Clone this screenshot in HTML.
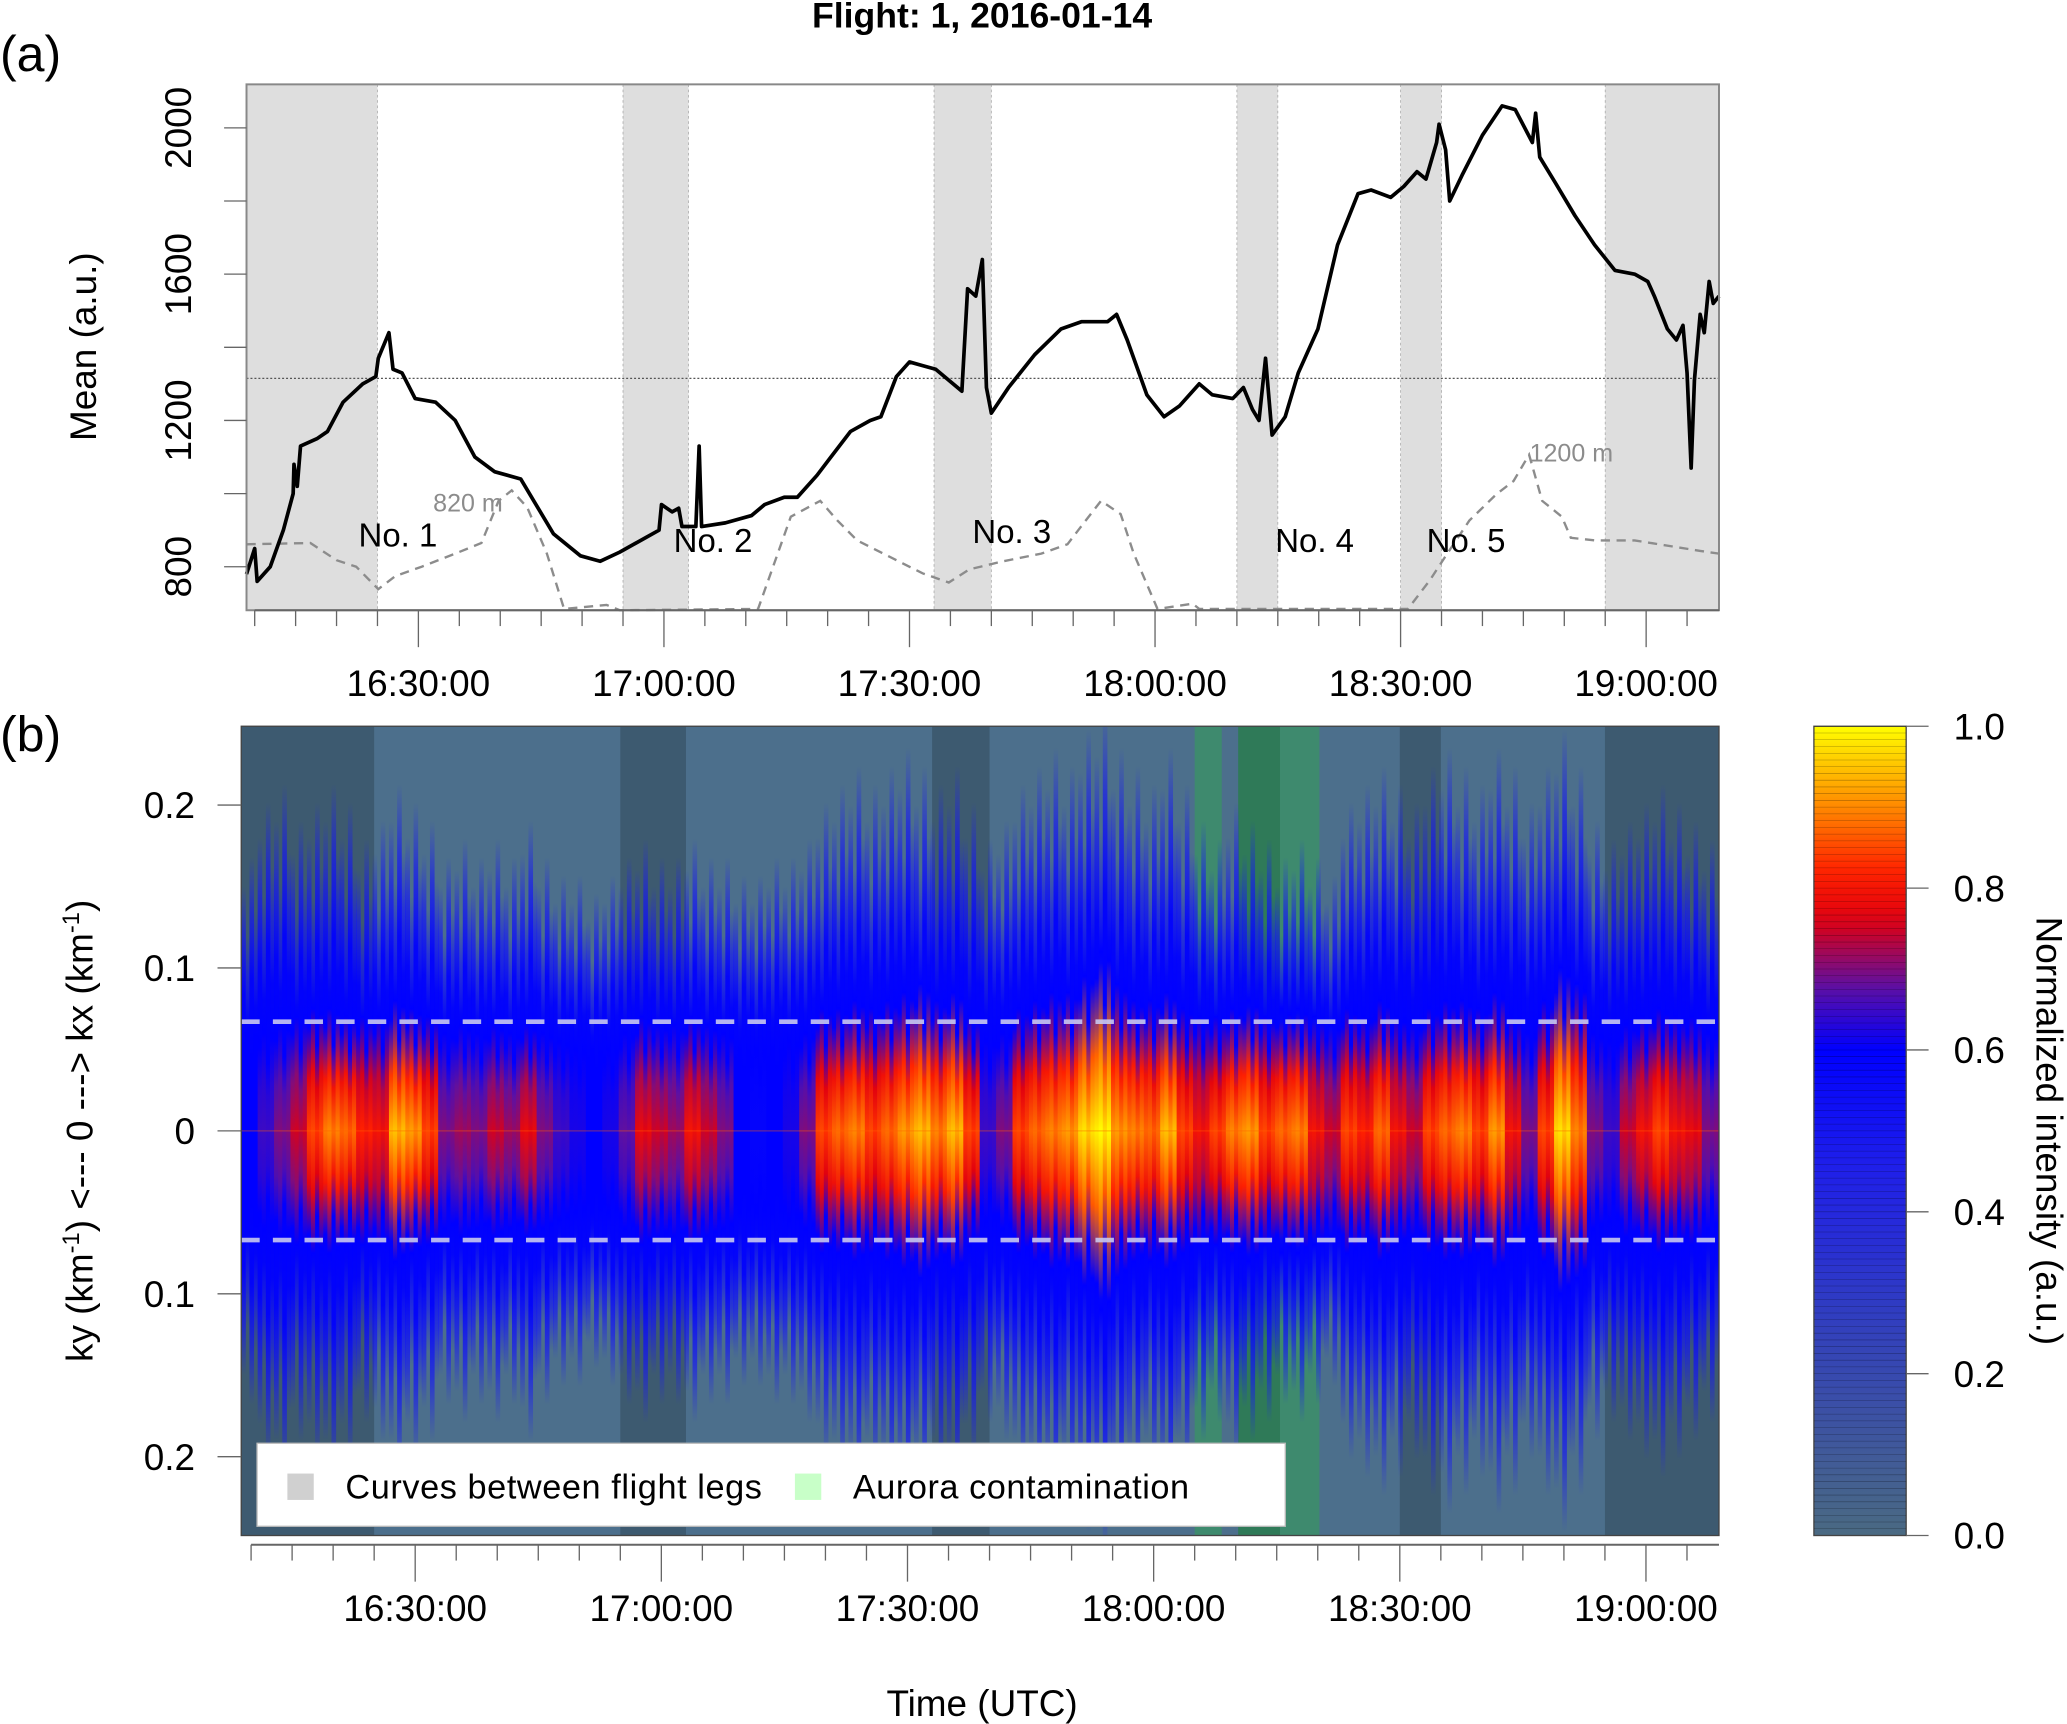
<!DOCTYPE html>
<html><head><meta charset="utf-8"><style>
html,body{margin:0;padding:0;background:#fff;}
svg{display:block;font-family:"Liberation Sans",sans-serif;}
</style></head><body>
<svg id="fig" width="2067" height="1724" viewBox="0 0 1568 1308" preserveAspectRatio="none" xmlns="http://www.w3.org/2000/svg">
<defs id="defs"></defs>
<text x="745" y="21" text-anchor="middle" font-size="27" font-weight="bold">Flight: 1, 2016-01-14</text>
<text x="0" y="54" font-size="38">(a)</text>
<text x="0" y="570" font-size="38">(b)</text>
<g id="pa"></g>
<g id="pb"></g>
<g id="cb"></g>
</svg>
<script>
// ---------- data: panel (a) ----------
const meanTimes=[9.0,10.0,10.3,11.9,13.5,14.7,14.8,15.2,15.6,17.6,18.9,20.8,23.2,24.8,25.1,26.4,26.9,28.0,29.6,32.1,34.5,36.9,39.3,42.5,44.1,46.5,49.8,52.2,54.6,57.8,59.4,59.7,61.0,61.8,62.2,63.9,64.3,64.6,67.5,70.7,72.3,74.7,76.3,78.7,80.4,82.8,85.2,86.5,88.4,90.0,91.6,93.2,96.4,97.1,98.1,98.9,99.4,100.0,102.1,105.3,108.5,111.0,114.2,115.3,116.6,119.0,121.1,123.0,125.4,127.0,129.5,130.8,131.9,132.7,133.5,134.3,135.9,137.5,139.9,142.3,144.8,146.4,148.8,150.4,152.0,153.1,154.4,154.7,155.5,156.0,157.5,160.0,162.4,164.0,166.1,166.5,167.0,168.9,171.3,173.7,176.2,178.6,180.2,181.0,182.6,183.7,184.5,185.0,185.5,185.9,186.6,187.1,187.7,188.2,188.9];
const meanValues=[780,850,760,800,900,1000,1080,1020,1130,1150,1170,1250,1300,1320,1370,1440,1340,1330,1260,1250,1200,1100,1060,1040,980,890,830,815,840,880,900,970,950,960,910,910,1130,910,920,940,970,990,990,1050,1100,1170,1200,1210,1320,1360,1350,1340,1280,1560,1540,1640,1290,1220,1290,1380,1450,1470,1470,1490,1420,1270,1210,1240,1300,1270,1260,1290,1230,1200,1370,1160,1210,1330,1450,1680,1820,1830,1810,1840,1880,1860,1960,2010,1940,1800,1870,1980,2060,2050,1960,2040,1920,1850,1760,1680,1610,1600,1580,1540,1450,1420,1460,1330,1070,1310,1490,1440,1580,1520,1540];
const altTimes=[9.0,16.8,20.0,22.4,25.1,27.2,30.4,34.5,37.7,39.8,41.4,43.3,45.7,47.8,53.0,54.6,71.5,73.9,75.5,79.1,81.2,83.6,86.8,91.6,94.8,97.3,101.3,106.1,109.3,110.9,113.4,115.8,117.4,120.3,124.6,125.4,150.9,153.6,155.7,158.4,161.7,163.8,165.7,167.3,169.7,170.8,173.7,178.6,186.6,188.9];
const altValues=[509,519,386,336,163,264,336,437,519,844,925,793,437,10,41,0,10,437,722,844,692,539,437,285,214,315,376,437,509,641,844,742,437,10,51,10,10,234,437,692,895,997,1200,844,722,559,539,539,458,437];
const curveBands=[[9,25],[55,63],[93,100],[130,135],[150,155],[175,189]];
const legLabels=["No. 1","No. 2","No. 3","No. 4","No. 5"];
const legLabelTimes=[27.5,66.0,102.5,139.5,158.0];
const legLabelValues=[855,840,865,840,840];
const meanRef=1315;
const yTicksA=[800,1000,1200,1400,1600,1800,2000];
const yLabelsA=[800,1200,1600,2000];
const xTickLabels=["16:30:00","17:00:00","17:30:00","18:00:00","18:30:00","19:00:00"];
const xTickMinutes=[30,60,90,120,150,180];
// ---------- data: panel (b) ----------
const binStart=8.8, binWidth=2.0;
const intensity=[0.6,0.65,0.7,0.75,0.85,0.9,0.88,0.82,0.8,0.95,0.92,0.85,0.7,0.72,0.7,0.75,0.72,0.78,0.7,0.65,0.62,0.6,0.62,0.68,0.78,0.75,0.72,0.8,0.75,0.7,0.6,0.58,0.6,0.62,0.7,0.85,0.88,0.9,0.85,0.88,0.92,0.95,0.9,0.95,0.85,0.65,0.7,0.85,0.88,0.9,0.92,0.98,1.0,0.92,0.9,0.88,0.95,0.85,0.8,0.85,0.9,0.92,0.85,0.88,0.9,0.8,0.75,0.85,0.82,0.88,0.8,0.75,0.85,0.88,0.9,0.85,0.92,0.8,0.7,0.85,0.98,0.9,0.7,0.65,0.75,0.8,0.85,0.8,0.78,0.7];
const extent=[0.15,0.18,0.19,0.17,0.18,0.19,0.18,0.16,0.17,0.19,0.18,0.17,0.15,0.16,0.15,0.16,0.15,0.17,0.15,0.14,0.14,0.13,0.14,0.15,0.16,0.15,0.15,0.16,0.15,0.15,0.14,0.14,0.15,0.15,0.16,0.18,0.19,0.2,0.19,0.2,0.21,0.2,0.19,0.2,0.18,0.16,0.17,0.19,0.2,0.21,0.2,0.22,0.23,0.21,0.2,0.19,0.21,0.19,0.17,0.16,0.18,0.17,0.16,0.15,0.16,0.15,0.14,0.18,0.19,0.2,0.19,0.18,0.2,0.21,0.2,0.19,0.21,0.2,0.18,0.2,0.22,0.2,0.17,0.16,0.17,0.18,0.19,0.18,0.17,0.16];
const coreK=[0.06,0.06,0.065,0.07,0.075,0.075,0.07,0.07,0.07,0.08,0.075,0.07,0.06,0.065,0.06,0.065,0.06,0.065,0.06,0.055,0.05,0.05,0.05,0.06,0.07,0.065,0.065,0.07,0.065,0.06,0.05,0.05,0.05,0.055,0.06,0.075,0.075,0.08,0.075,0.08,0.085,0.09,0.08,0.085,0.07,0.055,0.06,0.075,0.08,0.085,0.085,0.095,0.11,0.09,0.08,0.08,0.085,0.075,0.07,0.07,0.075,0.08,0.07,0.075,0.075,0.07,0.065,0.075,0.07,0.08,0.07,0.065,0.075,0.08,0.08,0.075,0.085,0.07,0.06,0.08,0.1,0.09,0.06,0.055,0.065,0.07,0.075,0.07,0.07,0.06];
const bgBands=[[8.8,25,'#3d5a70'],[55,63,'#3d5a70'],[93,100,'#3d5a70'],[150,155,'#3d5a70'],[175,189,'#3d5a70'],[125,128.3,'#3e8a6e'],[130.3,135.4,'#2f7a58'],[135.4,140.2,'#3e8a6e']];
const kTicks=[0.2,0.1,0,-0.1,-0.2];
const cbTicks=[0,0.2,0.4,0.6,0.8,1.0];
const cmapStops=[[0,'#4a6a82'],[0.45,'#2020e8'],[0.6,'#0000ff'],[0.68,'#6010a0'],[0.76,'#e00010'],[0.82,'#ff2000'],[0.9,'#ff8800'],[1,'#ffff00']];

const NS='http://www.w3.org/2000/svg';
function mk(tag,attrs,parent){const e=document.createElementNS(NS,tag);for(const k in attrs)e.setAttribute(k,attrs[k]);if(parent)parent.appendChild(e);return e;}
function hex(c){return [parseInt(c.substr(1,2),16),parseInt(c.substr(3,2),16),parseInt(c.substr(5,2),16)];}
function cmap(v){v=Math.max(0,Math.min(1,v));for(let i=1;i<cmapStops.length;i++){if(v<=cmapStops[i][0]){const a=cmapStops[i-1],b=cmapStops[i];const f=(v-a[0])/(b[0]-a[0]);const ca=hex(a[1]),cb=hex(b[1]);return 'rgb('+ca.map((x,j)=>Math.round(x+(cb[j]-x)*f)).join(',')+')';}}return cmapStops[cmapStops.length-1][1];}

// ---------- panel (a) ----------
const pa=document.getElementById('pa');
const A={x0:187,x1:1304,y0:64,y1:463};
const xa=t=>187+(t-9.0)*(1304-187)/(188.9-9.0);
const ya=v=>430-(v-800)*(333/1200);
const yalt=a=>463-a*(118/1200);
curveBands.forEach(b=>{const r=mk('rect',{x:xa(b[0]),y:A.y0,width:xa(b[1])-xa(b[0]),height:A.y1-A.y0,fill:'#dedede'},pa);


[b[0],b[1]].forEach(t=>{if(t>9.5&&t<188){mk('line',{x1:xa(t),x2:xa(t),y1:A.y0,y2:A.y1,stroke:'#aaa','stroke-width':0.6,'stroke-dasharray':'2 2'},pa);}});});
const ref=mk('line',{x1:A.x0,x2:A.x1,y1:ya(meanRef),y2:ya(meanRef),stroke:'#555','stroke-width':1,'stroke-dasharray':'1.5 1.5'},pa);


const alt=mk('polyline',{points:altTimes.map((t,i)=>xa(t)+','+yalt(altValues[i])).join(' '),fill:'none',stroke:'#8c8c8c','stroke-width':1.8,'stroke-dasharray':'7 5'},pa);


const ml=mk('polyline',{points:meanTimes.map((t,i)=>xa(t)+','+ya(meanValues[i])).join(' '),fill:'none',stroke:'#000','stroke-width':2.8,'stroke-linejoin':'round'},pa);


legLabels.forEach((s,i)=>{const t=mk('text',{x:xa(legLabelTimes[i]),y:ya(legLabelValues[i]),'text-anchor':'middle','font-size':25},pa);t.textContent=s;

});
const t820=mk('text',{x:355,y:388,'text-anchor':'middle','font-size':19,fill:'#8c8c8c'},pa);t820.textContent='820 m';


const t1200=mk('text',{x:1192,y:350,'text-anchor':'middle','font-size':19,fill:'#8c8c8c'},pa);t1200.textContent='1200 m';


mk('rect',{x:A.x0,y:A.y0,width:A.x1-A.x0,height:A.y1-A.y0,fill:'none',stroke:'#888','stroke-width':1.5},pa);
yTicksA.forEach(v=>{mk('line',{x1:170,x2:A.x0,y1:ya(v),y2:ya(v),stroke:'#666','stroke-width':1},pa);});
yLabelsA.forEach(v=>{const t=mk('text',{x:0,y:0,transform:'translate(145,'+ya(v)+') rotate(-90)','text-anchor':'middle','font-size':28},pa);t.textContent=v;

});
const yt=mk('text',{x:0,y:0,transform:'translate(73,263) rotate(-90)','text-anchor':'middle','font-size':28},pa);yt.textContent='Mean (a.u.)';


function xAxis(g,xf,yb,ly){
 mk('line',{x1:xf(10),x2:1304,y1:yb,y2:yb,stroke:'#666','stroke-width':1.5},g);
 for(let m=10;m<=188;m+=5){const maj=m%30===0;mk('line',{x1:xf(m),x2:xf(m),y1:yb,y2:yb+(maj?28:12),stroke:'#666','stroke-width':1},g);}
 xTickMinutes.forEach((m,i)=>{const t=mk('text',{x:xf(m),y:ly,'text-anchor':'middle','font-size':28},g);t.textContent=xTickLabels[i];
 
 });
}
xAxis(pa,xa,463,528);

// ---------- panel (b) ----------
const pb=document.getElementById('pb');const defs=document.getElementById('defs');
const B={x0:183,x1:1304,y0:551,y1:1165};
const xb=t=>183+(t-8.8)*(1304-183)/(188.9-8.8);
const yb=k=>858-k*1236;
const clip=mk('clipPath',{id:'clipb'},defs);mk('rect',{x:B.x0,y:B.y0,width:B.x1-B.x0,height:B.y1-B.y0},clip);
const gb=mk('g',{'clip-path':'url(#clipb)'},pb);
mk('rect',{x:B.x0,y:B.y0,width:B.x1-B.x0,height:B.y1-B.y0,fill:'#4c6f8c'},gb);
bgBands.forEach(b=>{const r=mk('rect',{x:xb(b[0]),y:B.y0,width:xb(b[1])-xb(b[0]),height:B.y1-B.y0,fill:b[2]},gb);

});
const subExt=[1.0,0.8,1.12,0.9];
const subCore=[0.85,1.0,0.7,0.95];
const subAmp=[0.97,1.0,0.93,0.99];
const bw=xb(binStart+binWidth)-xb(binStart);
intensity.forEach((v,i)=>{
 for(let s=0;s<4;s++){
  const e=extent[i]*subExt[s],c=coreK[i]*subCore[s],vv=0.6+(v-0.6)*subAmp[s];
  const id='g'+i+'_'+s;const gr=mk('linearGradient',{id:id,x1:0,y1:0,x2:0,y2:1},defs);
  const cf=Math.min(0.45,c/(2*e));
  const st=[[0,'#1818ff',0],[0.1,'#1010ff',0.6],[0.22,'#0000ff',0.95],[0.5-cf,'#0000ff',1],[0.5-cf*0.5,cmap(0.6+(vv-0.6)*0.7),1],[0.5,cmap(vv),1],[0.5+cf*0.5,cmap(0.6+(vv-0.6)*0.7),1],[0.5+cf,'#0000ff',1],[0.78,'#0000ff',0.95],[0.9,'#1010ff',0.6],[1,'#1818ff',0]];
  st.sort((a,b)=>a[0]-b[0]).forEach(q=>mk('stop',{offset:q[0],'stop-color':q[1],'stop-opacity':q[2]},gr));
  const r=mk('rect',{x:xb(binStart+i*binWidth)+s*bw/4,y:yb(e),width:bw/4+0.4,height:yb(-e)-yb(e),fill:'url(#'+id+')'},gb);
  
  
 }
});
mk('line',{x1:B.x0,x2:B.x1,y1:858,y2:858,stroke:'#ff6000','stroke-width':1,'stroke-opacity':0.4},gb);
[0.067,-0.067].forEach(k=>{const l=mk('line',{x1:B.x0,x2:B.x1,y1:yb(k),y2:yb(k),stroke:'#c8c8f0','stroke-width':3.5,'stroke-dasharray':'14 10','stroke-opacity':0.9},gb);

});
mk('rect',{x:B.x0,y:B.y0,width:B.x1-B.x0,height:B.y1-B.y0,fill:'none',stroke:'#444','stroke-width':1},pb);
kTicks.forEach(k=>{mk('line',{x1:165,x2:B.x0,y1:yb(k),y2:yb(k),stroke:'#666','stroke-width':1},pb);
 const t=mk('text',{x:148,y:yb(k)+10,'text-anchor':'end','font-size':28},pb);t.textContent=k===0?'0':String(Math.abs(k));
 
 });
const kt=mk('text',{x:0,y:0,transform:'translate(70,858) rotate(-90)','text-anchor':'middle','font-size':28},pb);
kt.innerHTML='ky (km<tspan dy="-10" font-size="18">-1</tspan><tspan dy="10">) &lt;--- 0 ---&gt; kx (km</tspan><tspan dy="-10" font-size="18">-1</tspan><tspan dy="10">)</tspan>';


xAxis(pb,xb,1172,1230);
const xt=mk('text',{x:745,y:1302,'text-anchor':'middle','font-size':28},pb);xt.textContent='Time (UTC)';


// legend
const lg=mk('g',{},pb);


mk('rect',{x:195,y:1095,width:780,height:63,fill:'#fff',stroke:'#bbb','stroke-width':1},lg);
mk('rect',{x:218,y:1118,width:20,height:20,fill:'#d0d0d0'},lg);
const l1=mk('text',{x:262,y:1137,'font-size':26,textLength:316},lg);l1.textContent='Curves between flight legs';


mk('rect',{x:603,y:1118,width:20,height:20,fill:'#c8ffc8'},lg);
const l2=mk('text',{x:647,y:1137,'font-size':26,textLength:255},lg);l2.textContent='Aurora contamination';



// ---------- colorbar ----------
const cb=document.getElementById('cb');
const cg=mk('linearGradient',{id:'cbg',x1:0,y1:1,x2:0,y2:0},defs);
for(let i=0;i<=40;i++){mk('stop',{offset:i/40,'stop-color':cmap(i/40)},cg);}
const cy=v=>1165-v*614;
mk('rect',{x:1376,y:551,width:70,height:614,fill:'url(#cbg)',stroke:'#444','stroke-width':1},cb);
for(let i=0;i<120;i++){mk('line',{x1:1376,x2:1446,y1:551+i*614/120,y2:551+i*614/120,stroke:'#000','stroke-width':0.4,'stroke-opacity':0.35},cb);}
cbTicks.forEach(v=>{mk('line',{x1:1446,x2:1463,y1:cy(v),y2:cy(v),stroke:'#666','stroke-width':1},cb);
 const t=mk('text',{x:1482,y:cy(v)+10,'font-size':28},cb);t.textContent=v.toFixed(1);
 
 });
const ct=mk('text',{x:0,y:0,transform:'translate(1545,858) rotate(90)','text-anchor':'middle','font-size':28},cb);ct.textContent='Normalized intensity (a.u.)';


</script>
</body></html>
